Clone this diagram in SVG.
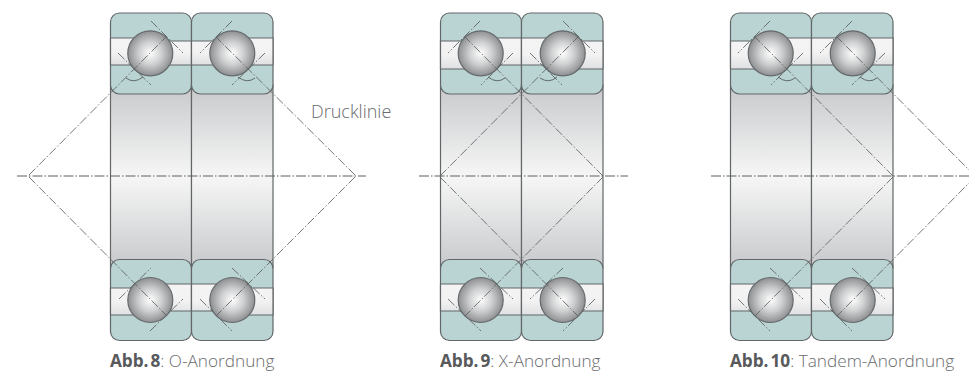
<svg xmlns="http://www.w3.org/2000/svg" width="969" height="373" viewBox="0 0 969 373">
<style>
text{font-family:"Open Sans","Noto Sans","Liberation Sans",sans-serif;fill:#6a6b6d}
.cap{font-size:17.2px;font-weight:300}
.cap tspan{font-weight:700;fill:#58595b;word-spacing:-2.5px}
.lbl{font-size:18px;font-weight:300}
.cyl{fill:url(#cyl);stroke:#626668;stroke-width:1.2}
.ring{fill:#b9d4d3;stroke:#626668;stroke-width:1.2}
.band{fill:url(#band);stroke:#626668;stroke-width:1.2}
.ball{fill:url(#ball);stroke:#666a6c;stroke-width:1.2}
.tan,.con{fill:none;stroke:#5c5f61;stroke-width:.85;stroke-dasharray:9 2 1.5 2}
.arc{fill:none;stroke:#585b5d;stroke-width:.9}
.axis{fill:none;stroke:#5c5f61;stroke-width:1;stroke-dasharray:10 2 1.5 2}
</style>
<defs>
<linearGradient id="cyl" x1="0" y1="0" x2="0" y2="1"><stop offset="0" stop-color="#c8c9cb"/><stop offset=".5" stop-color="#f6f6f6"/><stop offset="1" stop-color="#c8c9cb"/></linearGradient>
<linearGradient id="band" x1="0" y1="0" x2="0" y2="1"><stop offset="0" stop-color="#f4f4f5"/><stop offset=".55" stop-color="#f2f2f3"/><stop offset="1" stop-color="#dfe0e1"/></linearGradient>
<radialGradient id="ball" cx=".5" cy=".5" r=".5"><stop offset="0" stop-color="#ffffff"/><stop offset=".5" stop-color="#cfd0d1"/><stop offset="1" stop-color="#8e8f91"/></radialGradient>
</defs>

<g id="abb8">
<g id="abb8-left">
<rect class="cyl" x="110.5" y="85" width="81" height="183"/>
<rect class="ring" x="110.5" y="13" width="81" height="81" rx="9"/>
<rect class="ring" x="110.5" y="259.5" width="81" height="81" rx="9"/>
<path class="band" d="M110.5 38H150V41H191.5V65H110.5Z"/>
<path class="band" d="M110.5 288H150V284H191.5V311H150V315H110.5Z"/>
<path class="tan" d="M151 21L183 53M118 53L151 85M119 299L151 268M150 331L183 299"/>
<circle class="ball" cx="150.3" cy="53.3" r="22.5"/>
<circle class="ball" cx="150.3" cy="300" r="22.5"/>
<path class="arc" d="M126 78Q134 84 143 77"/>
</g>
<g id="abb8-right">
<rect class="cyl" x="191.5" y="85" width="81.5" height="183"/>
<rect class="ring" x="191.5" y="13" width="81.5" height="81" rx="9"/>
<rect class="ring" x="191.5" y="259.5" width="81.5" height="81" rx="9"/>
<path class="band" d="M191.5 41H232V38H273V65H191.5Z"/>
<path class="band" d="M191.5 284H232V288H273V315H232V311H191.5Z"/>
<path class="tan" d="M232 21L200 53M265 53L232 85M232 268L265 299M200 299L232 331"/>
<circle class="ball" cx="232.3" cy="53.3" r="22.5"/>
<circle class="ball" cx="232.3" cy="300" r="22.5"/>
<path class="arc" d="M238 77Q247 84 255 78"/>
</g>
<text class="lbl" x="311" y="118">Drucklinie</text>
<text class="cap" x="110" y="367"><tspan>Abb. 8</tspan>: O-Anordnung</text>
</g>

<g id="abb9">
<g id="abb9-left">
<rect class="cyl" x="440.5" y="85" width="81" height="183"/>
<rect class="ring" x="440.5" y="13" width="81" height="81" rx="9"/>
<rect class="ring" x="440.5" y="259.5" width="81" height="81" rx="9"/>
<path class="band" d="M440.5 41H481V38H521.5V65H481V69H440.5Z"/>
<path class="band" d="M440.5 284H481V288H521.5V315H481V311H440.5Z"/>
<path class="tan" d="M480 21L448 53M513 53L481 85M480 268L513 299M448 299L481 331"/>
<circle class="ball" cx="480.7" cy="53.3" r="22.5"/>
<circle class="ball" cx="480.7" cy="300" r="22.5"/>
<path class="arc" d="M488 77Q497 84 505 78"/>
</g>
<g id="abb9-right">
<rect class="cyl" x="521.5" y="85" width="81.5" height="183"/>
<rect class="ring" x="521.5" y="13" width="81.5" height="81" rx="9"/>
<rect class="ring" x="521.5" y="259.5" width="81.5" height="81" rx="9"/>
<path class="band" d="M521.5 38H563V41H603V69H563V65H521.5Z"/>
<path class="band" d="M521.5 288H563V284H603V311H563V315H521.5Z"/>
<path class="tan" d="M563 21L595 53M530 53L562 85M563 268L530 299M595 299L563 331"/>
<circle class="ball" cx="562.7" cy="53.3" r="22.5"/>
<circle class="ball" cx="562.7" cy="300" r="22.5"/>
<path class="arc" d="M540 78Q549 84 557 77"/>
</g>
<text class="cap" x="440" y="367"><tspan>Abb. 9</tspan>: X-Anordnung</text>
</g>

<g id="abb10">
<g id="abb10-left">
<rect class="cyl" x="730.5" y="85" width="81" height="183"/>
<rect class="ring" x="730.5" y="13" width="81" height="81" rx="9"/>
<rect class="ring" x="730.5" y="259.5" width="81" height="81" rx="9"/>
<path class="band" d="M730.5 41H771V38H811.5V65H771V69H730.5Z"/>
<path class="band" d="M730.5 284H771V288H811.5V315H771V311H730.5Z"/>
<path class="tan" d="M770 21L738 53M803 53L771 85M770 268L803 299M738 299L770 331"/>
<circle class="ball" cx="770.7" cy="53.3" r="22.5"/>
<circle class="ball" cx="770.7" cy="300" r="22.5"/>
<path class="arc" d="M778 77Q787 84 795 78"/>
</g>
<g id="abb10-right">
<rect class="cyl" x="811.5" y="85" width="81.5" height="183"/>
<rect class="ring" x="811.5" y="13" width="81.5" height="81" rx="9"/>
<rect class="ring" x="811.5" y="259.5" width="81.5" height="81" rx="9"/>
<path class="band" d="M811.5 38H893V65H811.5Z"/>
<path class="band" d="M811.5 284H853V288H893V315H853V311H811.5Z"/>
<path class="tan" d="M852 21L820 53M885 53L852 85M852 268L885 299M820 299L852 331"/>
<circle class="ball" cx="852.7" cy="53.3" r="22.5"/>
<circle class="ball" cx="852.7" cy="300" r="22.5"/>
<path class="arc" d="M860 77Q869 84 877 78"/>
</g>
<text class="cap" x="730" y="367"><tspan>Abb. 10</tspan>: Tandem-Anordnung</text>
</g>

<g id="connectors">
<path class="axis" d="M17 176H366M419 176H628M711 176H969"/>
<path class="con" d="M29 175L166 37M29 177L167 316M355 175L216 37M355 177L216 316"/>
<path class="con" d="M603 176L465 37M603 177L465 316M440 176L578 37M440 177L578 316"/>
<path class="con" d="M893 176L755 37M893 177L755 316M975 176L837 37M975 177L837 316"/>
</g>
</svg>
